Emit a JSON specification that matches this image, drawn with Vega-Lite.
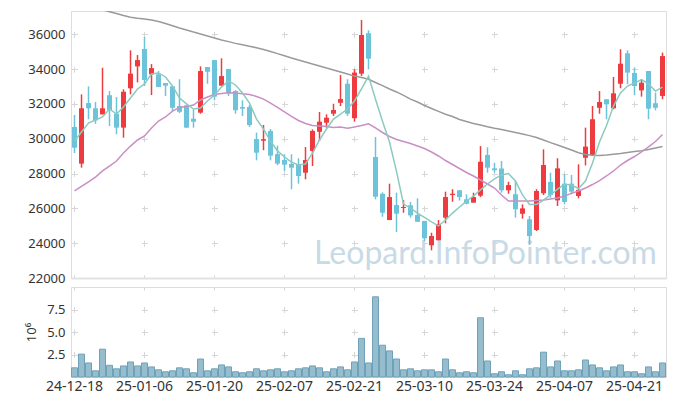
{
"$schema": "https://vega.github.io/schema/vega-lite/v6.json",
"padding": {"left": 25, "top": 10, "right": 5, "bottom": 5},
"spacing": 0,
"config": {"view": {"stroke": "#dddddd"}, "font": "Noto Sans", "axis": {"labelFont": "Noto Sans", "titleFont": "Noto Sans", "labelColor": "#333333", "titleColor": "#333333", "gridColor": "#d6d6d6", "gridWidth": 1, "labelOverlap": false}},
"data": {"values": [
{"d":"24-12-18","o":30675,"h":31364,"l":29181,"c":29486,"v":1.02,"m5":29870,"m20":27000,"mL":37870},
{"d":"24-12-19","o":28570,"h":32550,"l":28340,"c":31750,"v":2.54,"m5":30390,"m20":27260,"mL":37750},
{"d":"24-12-20","o":32050,"h":33010,"l":31120,"c":31750,"v":1.56,"m5":30900,"m20":27520,"mL":37640},
{"d":"24-12-23","o":31750,"h":32110,"l":30860,"c":31060,"v":0.69,"m5":31080,"m20":27800,"mL":37520},
{"d":"24-12-24","o":31400,"h":34080,"l":31400,"c":31750,"v":3.09,"m5":31250,"m20":28150,"mL":37410},
{"d":"24-12-26","o":32500,"h":32740,"l":30730,"c":31650,"v":1.30,"m5":31710,"m20":28430,"mL":37300},
{"d":"24-12-27","o":31440,"h":32400,"l":30260,"c":30640,"v":0.91,"m5":31420,"m20":28720,"mL":37200},
{"d":"24-12-30","o":30640,"h":32840,"l":30060,"c":32700,"v":1.23,"m5":31820,"m20":29180,"mL":37080},
{"d":"25-01-02","o":32900,"h":35080,"l":32550,"c":33740,"v":1.67,"m5":32340,"m20":29580,"mL":36980},
{"d":"25-01-03","o":34160,"h":34810,"l":33240,"c":34520,"v":1.23,"m5":32860,"m20":29930,"mL":36920},
{"d":"25-01-06","o":35160,"h":35850,"l":33030,"c":33380,"v":1.56,"m5":33150,"m20":30160,"mL":36880},
{"d":"25-01-07","o":33700,"h":34290,"l":32510,"c":34060,"v":1.12,"m5":33720,"m20":30620,"mL":36820},
{"d":"25-01-08","o":33700,"h":33890,"l":32970,"c":32970,"v":0.80,"m5":33780,"m20":31020,"mL":36740},
{"d":"25-01-09","o":33200,"h":33200,"l":32460,"c":33050,"v":0.58,"m5":33550,"m20":31250,"mL":36620},
{"d":"25-01-10","o":33010,"h":33030,"l":31600,"c":31780,"v":0.69,"m5":33030,"m20":31590,"mL":36490},
{"d":"25-01-13","o":31880,"h":33420,"l":31480,"c":31550,"v":1.02,"m5":32340,"m20":31800,"mL":36360},
{"d":"25-01-14","o":31920,"h":31940,"l":30620,"c":30640,"v":0.91,"m5":32000,"m20":31850,"mL":36250},
{"d":"25-01-15","o":31150,"h":31690,"l":30640,"c":30980,"v":0.47,"m5":31710,"m20":31940,"mL":36130},
{"d":"25-01-16","o":31500,"h":34160,"l":31440,"c":33890,"v":2.00,"m5":31770,"m20":32230,"mL":36020},
{"d":"25-01-17","o":34120,"h":34120,"l":33160,"c":33850,"v":0.69,"m5":32170,"m20":32400,"mL":35900},
{"d":"25-01-20","o":34520,"h":34520,"l":32210,"c":32420,"v":0.91,"m5":32510,"m20":32540,"mL":35790},
{"d":"25-01-21","o":33050,"h":34620,"l":33050,"c":33600,"v":1.34,"m5":32970,"m20":32600,"mL":35670},
{"d":"25-01-22","o":34010,"h":34010,"l":32460,"c":32650,"v":1.12,"m5":33320,"m20":32650,"mL":35580},
{"d":"25-01-23","o":32740,"h":32800,"l":31440,"c":31640,"v":0.58,"m5":33090,"m20":32630,"mL":35480},
{"d":"25-01-24","o":31820,"h":32210,"l":31310,"c":31730,"v":0.47,"m5":32630,"m20":32580,"mL":35400},
{"d":"25-01-31","o":31820,"h":31940,"l":30680,"c":30790,"v":0.58,"m5":32050,"m20":32540,"mL":35310},
{"d":"25-02-03","o":29980,"h":30350,"l":28760,"c":29200,"v":0.91,"m5":31130,"m20":32430,"mL":35230},
{"d":"25-02-04","o":29890,"h":30790,"l":29340,"c":29980,"v":0.69,"m5":30560,"m20":32280,"mL":35130},
{"d":"25-02-05","o":30450,"h":30560,"l":28760,"c":29030,"v":0.80,"m5":29870,"m20":32050,"mL":35010},
{"d":"25-02-06","o":29120,"h":29600,"l":28480,"c":28570,"v":0.91,"m5":29300,"m20":31800,"mL":34890},
{"d":"25-02-07","o":28780,"h":29110,"l":28150,"c":28510,"v":0.58,"m5":28950,"m20":31540,"mL":34770},
{"d":"25-02-10","o":28550,"h":29110,"l":27100,"c":28340,"v":0.69,"m5":28660,"m20":31280,"mL":34640},
{"d":"25-02-11","o":28550,"h":28880,"l":27420,"c":27860,"v":0.91,"m5":28490,"m20":31050,"mL":34520},
{"d":"25-02-12","o":28050,"h":29530,"l":27670,"c":28780,"v":1.02,"m5":28550,"m20":30880,"mL":34410},
{"d":"25-02-13","o":29300,"h":30540,"l":28430,"c":30450,"v":1.23,"m5":29180,"m20":30760,"mL":34290},
{"d":"25-02-14","o":30400,"h":31540,"l":29870,"c":30980,"v":1.02,"m5":29930,"m20":30730,"mL":34180},
{"d":"25-02-17","o":30920,"h":31400,"l":30640,"c":31210,"v":0.58,"m5":30560,"m20":30700,"mL":34060},
{"d":"25-02-18","o":31440,"h":32010,"l":31310,"c":31650,"v":0.91,"m5":31130,"m20":30650,"mL":33950},
{"d":"25-02-19","o":32070,"h":33660,"l":31880,"c":32280,"v":1.12,"m5":31420,"m20":30680,"mL":33840},
{"d":"25-02-20","o":33160,"h":33420,"l":31310,"c":31440,"v":0.80,"m5":31710,"m20":30600,"mL":33720},
{"d":"25-02-21","o":31180,"h":33990,"l":30980,"c":33800,"v":1.67,"m5":32170,"m20":30680,"mL":33600},
{"d":"25-02-24","o":33740,"h":36820,"l":33610,"c":35960,"v":4.29,"m5":32860,"m20":30760,"mL":33520},
{"d":"25-02-25","o":36060,"h":36230,"l":33990,"c":34600,"v":1.56,"m5":33600,"m20":30860,"mL":33420},
{"d":"25-02-26","o":28950,"h":30100,"l":26520,"c":26670,"v":8.91,"m5":32270,"m20":30620,"mL":33230},
{"d":"25-02-27","o":26840,"h":26920,"l":25520,"c":25750,"v":3.53,"m5":31010,"m20":30360,"mL":33050},
{"d":"25-02-28","o":25330,"h":27420,"l":25330,"c":26650,"v":2.90,"m5":29810,"m20":30130,"mL":32860},
{"d":"25-03-04","o":26190,"h":26900,"l":24640,"c":25700,"v":2.00,"m5":28130,"m20":29960,"mL":32690},
{"d":"25-03-05","o":26020,"h":26480,"l":25750,"c":26080,"v":0.80,"m5":26250,"m20":29840,"mL":32490},
{"d":"25-03-06","o":26180,"h":26370,"l":25470,"c":25600,"v":0.91,"m5":26020,"m20":29730,"mL":32280},
{"d":"25-03-07","o":25620,"h":26580,"l":25220,"c":25230,"v":0.69,"m5":25730,"m20":29580,"mL":32110},
{"d":"25-03-10","o":25280,"h":25280,"l":24130,"c":24280,"v":0.80,"m5":25480,"m20":29440,"mL":31910},
{"d":"25-03-11","o":23880,"h":24600,"l":23590,"c":24410,"v":0.80,"m5":25220,"m20":29240,"mL":31740},
{"d":"25-03-12","o":24170,"h":25330,"l":24170,"c":25090,"v":0.58,"m5":24990,"m20":29010,"mL":31570},
{"d":"25-03-13","o":25470,"h":26960,"l":25140,"c":26650,"v":2.00,"m5":25330,"m20":28750,"mL":31410},
{"d":"25-03-14","o":26770,"h":27100,"l":26380,"c":26840,"v":0.80,"m5":25730,"m20":28520,"mL":31280},
{"d":"25-03-17","o":27040,"h":27040,"l":26450,"c":26650,"v":0.47,"m5":26080,"m20":28290,"mL":31110},
{"d":"25-03-18","o":26520,"h":26810,"l":26230,"c":26270,"v":0.58,"m5":26420,"m20":28060,"mL":30990},
{"d":"25-03-19","o":26330,"h":26900,"l":26330,"c":26650,"v":0.47,"m5":26710,"m20":27860,"mL":30880},
{"d":"25-03-20","o":26730,"h":29580,"l":26650,"c":28680,"v":6.58,"m5":27060,"m20":27630,"mL":30790},
{"d":"25-03-21","o":29070,"h":29510,"l":28050,"c":28340,"v":1.78,"m5":27400,"m20":27400,"mL":30690},
{"d":"25-03-24","o":28300,"h":28620,"l":28050,"c":28190,"v":0.36,"m5":27690,"m20":27170,"mL":30600},
{"d":"25-03-25","o":28290,"h":28720,"l":26900,"c":27040,"v":0.58,"m5":27920,"m20":26770,"mL":30530},
{"d":"25-03-26","o":27040,"h":27530,"l":26840,"c":27340,"v":0.25,"m5":28000,"m20":26420,"mL":30450},
{"d":"25-03-27","o":26810,"h":27570,"l":25470,"c":25950,"v":0.69,"m5":27570,"m20":26420,"mL":30360},
{"d":"25-03-28","o":25690,"h":26230,"l":25410,"c":26000,"v":0.25,"m5":26770,"m20":26420,"mL":30270},
{"d":"25-03-31","o":25370,"h":25560,"l":23900,"c":24410,"v":0.91,"m5":26230,"m20":26420,"mL":30180},
{"d":"25-04-01","o":24760,"h":27100,"l":24700,"c":27000,"v":1.02,"m5":26230,"m20":26450,"mL":30070},
{"d":"25-04-02","o":26870,"h":29390,"l":26770,"c":28490,"v":2.76,"m5":26480,"m20":26480,"mL":29930},
{"d":"25-04-03","o":27520,"h":28050,"l":26610,"c":26770,"v":1.12,"m5":26770,"m20":26540,"mL":29780},
{"d":"25-04-04","o":26460,"h":28880,"l":26140,"c":28300,"v":1.78,"m5":27110,"m20":26600,"mL":29640},
{"d":"25-04-07","o":27420,"h":27960,"l":26230,"c":26370,"v":0.69,"m5":27380,"m20":26710,"mL":29500},
{"d":"25-04-08","o":27420,"h":27920,"l":26810,"c":26960,"v":0.69,"m5":27340,"m20":26860,"mL":29350},
{"d":"25-04-09","o":26710,"h":28530,"l":26580,"c":27060,"v":0.80,"m5":27140,"m20":27000,"mL":29200},
{"d":"25-04-10","o":28910,"h":30640,"l":28470,"c":29550,"v":1.89,"m5":27570,"m20":27170,"mL":29100},
{"d":"25-04-11","o":29070,"h":31880,"l":29070,"c":31120,"v":1.34,"m5":28610,"m20":27370,"mL":29050},
{"d":"25-04-14","o":31780,"h":32740,"l":31440,"c":32110,"v":1.02,"m5":29810,"m20":27600,"mL":29040},
{"d":"25-04-15","o":32270,"h":32270,"l":31120,"c":31980,"v":0.69,"m5":30760,"m20":27860,"mL":29070},
{"d":"25-04-16","o":31750,"h":33550,"l":31690,"c":32610,"v":1.12,"m5":31880,"m20":28150,"mL":29110},
{"d":"25-04-17","o":33160,"h":35140,"l":32900,"c":34310,"v":1.34,"m5":32630,"m20":28490,"mL":29150},
{"d":"25-04-18","o":34910,"h":35080,"l":33130,"c":33800,"v":0.58,"m5":33030,"m20":28750,"mL":29210},
{"d":"25-04-21","o":33780,"h":34080,"l":32500,"c":33030,"v":0.58,"m5":33200,"m20":28980,"mL":29270},
{"d":"25-04-22","o":32780,"h":33420,"l":32420,"c":33220,"v":0.36,"m5":33400,"m20":29240,"mL":29310},
{"d":"25-04-23","o":33890,"h":33890,"l":31120,"c":31730,"v":1.12,"m5":33150,"m20":29530,"mL":29380},
{"d":"25-04-24","o":32040,"h":32650,"l":31630,"c":31780,"v":0.58,"m5":32740,"m20":29840,"mL":29470},
{"d":"25-04-25","o":32460,"h":34950,"l":32270,"c":34750,"v":1.56,"m5":32970,"m20":30240,"mL":29550}
]},
"vconcat": [
{
 "width": 595, "height": 267,
 "encoding": {
  "x": {"field": "d", "type": "ordinal", "scale": {"paddingInner": 0, "paddingOuter": 0},
   "axis": {"title": null, "labels": false, "ticks": false, "domain": true, "domainColor": "#e2e2e2", "domainWidth": 2, "grid": true, "gridDash": [6, 28.81], "gridDashOffset": 14.49, "bandPosition": 0.5,
    "values": ["24-12-18","25-01-06","25-01-20","25-02-07","25-02-21","25-03-10","25-03-24","25-04-07","25-04-21"]}}
 },
 "layer": [
  {"data": {"values": [{"label": "Leopard.InfoPointer.com"}]},
   "mark": {"type": "text", "font": "Lato", "fontSize": 32, "color": "#c8dae6", "align": "center", "baseline": "alphabetic", "dx": -2},
   "encoding": {"x": {"datum": "25-03-21", "type": "ordinal"},
    "y": {"datum": 22790, "type": "quantitative", "scale": {"domain": [22000, 37340], "nice": false, "zero": false},
     "axis": {"title": null, "ticks": false, "domain": false, "labelFontSize": 13, "labelPadding": 6, "labelOverlap": false, "grid": true, "gridDash": [6, 64], "gridDashOffset": 69.5, "values": [22000, 24000, 26000, 28000, 30000, 32000, 34000, 36000], "format": "d"}},
    "text": {"field": "label"}}},
  {"mark": {"type": "rule", "strokeWidth": 1.5},
   "encoding": {
    "y": {"field": "l", "type": "quantitative", "scale": {"domain": [22000, 37340], "nice": false, "zero": false},
     "axis": {"title": null, "ticks": false, "domain": false, "labelFontSize": 13, "labelPadding": 6, "labelOverlap": false, "grid": true, "gridDash": [6, 64], "gridDashOffset": 69.5, "values": [22000, 24000, 26000, 28000, 30000, 32000, 34000, 36000], "format": "d"}},
    "y2": {"field": "h"},
    "color": {"condition": {"test": "datum.c > datum.o", "value": "#ee3b3f"}, "value": "#6cc3da"}}},
  {"mark": {"type": "bar", "size": 5},
   "encoding": {
    "y": {"field": "o", "type": "quantitative", "scale": {"domain": [22000, 37340], "nice": false, "zero": false},
     "axis": {"title": null, "ticks": false, "domain": false, "labelFontSize": 13, "labelPadding": 6, "labelOverlap": false, "grid": true, "gridDash": [6, 64], "gridDashOffset": 69.5, "values": [22000, 24000, 26000, 28000, 30000, 32000, 34000, 36000], "format": "d"}},
    "y2": {"field": "c"},
    "color": {"condition": {"test": "datum.c > datum.o", "value": "#ee3b3f"}, "value": "#6cc3da"}}},
  {"mark": {"type": "line", "color": "#9a9a9a", "strokeWidth": 1.5, "clip": true},
   "encoding": {"y": {"field": "mL", "type": "quantitative", "scale": {"domain": [22000, 37340], "nice": false, "zero": false},
     "axis": {"title": null, "ticks": false, "domain": false, "labelFontSize": 13, "labelPadding": 6, "labelOverlap": false, "grid": true, "gridDash": [6, 64], "gridDashOffset": 69.5, "values": [22000, 24000, 26000, 28000, 30000, 32000, 34000, 36000], "format": "d"}}}},
  {"mark": {"type": "line", "color": "#c98fc5", "strokeWidth": 1.5, "clip": true},
   "encoding": {"y": {"field": "m20", "type": "quantitative", "scale": {"domain": [22000, 37340], "nice": false, "zero": false},
     "axis": {"title": null, "ticks": false, "domain": false, "labelFontSize": 13, "labelPadding": 6, "labelOverlap": false, "grid": true, "gridDash": [6, 64], "gridDashOffset": 69.5, "values": [22000, 24000, 26000, 28000, 30000, 32000, 34000, 36000], "format": "d"}}}},
  {"mark": {"type": "line", "color": "#8ccac0", "strokeWidth": 1.5, "clip": true},
   "encoding": {"y": {"field": "m5", "type": "quantitative", "scale": {"domain": [22000, 37340], "nice": false, "zero": false},
     "axis": {"title": null, "ticks": false, "domain": false, "labelFontSize": 13, "labelPadding": 6, "labelOverlap": false, "grid": true, "gridDash": [6, 64], "gridDashOffset": 69.5, "values": [22000, 24000, 26000, 28000, 30000, 32000, 34000, 36000], "format": "d"}}}}
 ]
},
{
 "width": 595, "height": 90,
 "mark": {"type": "bar", "size": 6, "fill": "#96bdce", "stroke": "#6fa2b8", "strokeWidth": 1},
 "encoding": {
  "x": {"field": "d", "type": "ordinal", "scale": {"paddingInner": 0, "paddingOuter": 0},
   "axis": {"title": null, "labelAngle": 0, "labelFontSize": 14, "labelPadding": 2, "ticks": false, "domain": false, "grid": true, "gridDash": [6, 16.5], "gridDashOffset": 3, "bandPosition": 0.5,
    "values": ["24-12-18","25-01-06","25-01-20","25-02-07","25-02-21","25-03-10","25-03-24","25-04-07","25-04-21"]}},
  "y": {"field": "v", "type": "quantitative", "scale": {"domain": [0, 10], "nice": false},
   "axis": {"title": "10⁶", "titleFontWeight": "normal", "titleFontSize": 13, "titlePadding": 8, "ticks": false, "domain": false, "labelFontSize": 13, "labelPadding": 6, "labelOverlap": false, "values": [2.5, 5, 7.5], "format": ".1f", "grid": true, "gridDash": [6, 64], "gridDashOffset": 69.5}}
 }
}
]
}
